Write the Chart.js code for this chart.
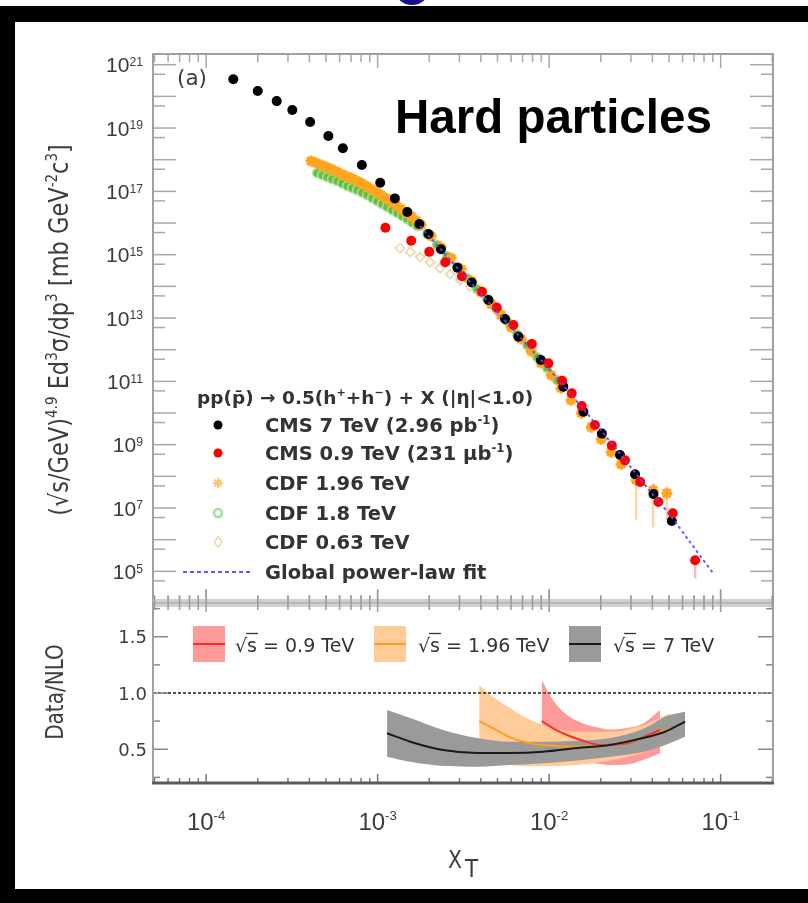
<!DOCTYPE html>
<html>
<head>
<meta charset="utf-8">
<script src="https://cdn.jsdelivr.net/npm/chart.js@4.4.1/dist/chart.umd.min.js"></script>
<style>
  body { margin: 0; background: #fff; }
  #wrap { position: relative; width: 808px; height: 903px; overflow: hidden; background: #fff; }
  .abs { position: absolute; }
  canvas { position: absolute; left: 0; top: 0; }
</style>
</head>
<body>
<div id="wrap">
  <div class="abs" style="left:0;top:6px;width:808px;height:897px;background:#000"></div>
  <div class="abs" style="left:15px;top:22px;width:793px;height:867px;background:#fff"></div>
  <div class="abs" style="left:395px;top:-26px;width:34px;height:31px;border-radius:50%;background:#15138a"></div>
  <canvas id="spectra" width="808" height="903"></canvas>
  <canvas id="ratio" width="808" height="903"></canvas>
</div>
<script>
// axis ranges
const xLimits = [4.9e-5, 0.202];
const spectraYLimits = [1e4, 2.18e21];
const ratioYLimits = [0.2, 1.8];

// tick labels
const spectraTickValues = [1e21, 1e19, 1e17, 1e15, 1e13, 1e11, 1e9, 1e7, 1e5];
const spectraTickExps = ["21", "19", "17", "15", "13", "11", "9", "7", "5"];
const xTickValues = [1e-4, 1e-3, 1e-2, 1e-1];
const xTickExps = ["-4", "-3", "-2", "-1"];
const ratioTickValues = [0.5, 1.0, 1.5];
const ratioTickLabels = ["0.5", "1.0", "1.5"];

// CMS 7 TeV
const cms7X = [1.44e-4, 2.0e-4, 2.58e-4, 3.18e-4, 4.04e-4, 5.16e-4, 6.27e-4, 8.09e-4, 1.035e-3, 1.26e-3, 1.49e-3, 1.75e-3, 1.98e-3, 2.34e-3, 2.92e-3, 3.54e-3, 4.43e-3, 5.53e-3, 6.62e-3, 8.95e-3, 1.21e-2, 1.585e-2, 2.03e-2, 2.59e-2, 3.17e-2, 4.06e-2, 5.19e-2];
const cms7Y = [3.47e20, 1.48e20, 7.1e19, 3.7e19, 1.55e19, 5.6e18, 2.3e18, 6.8e17, 1.86e17, 6.0e16, 2.24e16, 9.3e15, 4.5e15, 1.48e15, 3.9e14, 1.32e14, 3.7e13, 9.3e12, 2.57e12, 4.7e11, 6.8e10, 1.1e10, 2.24e9, 4.7e8, 1.17e8, 2.75e7, 3.9e6];

// CMS 0.9 TeV
const cms09X = [1.11e-3, 1.57e-3, 2.0e-3, 2.48e-3, 3.10e-3, 4.06e-3, 4.95e-3, 6.19e-3, 7.93e-3, 9.9e-3, 1.19e-2, 1.355e-2, 1.55e-2, 1.85e-2, 2.32e-2, 2.77e-2, 3.40e-2, 4.34e-2, 5.26e-2, 7.10e-2];
const cms09Y = [7.1e15, 2.75e15, 1.23e15, 5.75e14, 2.09e14, 6.8e13, 2.14e13, 6.0e12, 1.51e12, 3.7e11, 1.05e11, 4.2e10, 1.66e10, 4.2e9, 9.5e8, 3.2e8, 6.6e7, 1.55e7, 6.8e6, 2.24e5];
const cms09ErrX = [7.10e-2];
const cms09ErrLow = [6.0e4];
const cms09ErrHigh = [3.0e5];

// CDF 1.96 TeV
const cdf196X = [4.09e-4, 4.38e-4, 4.68e-4, 5.01e-4, 5.36e-4, 5.73e-4, 6.13e-4, 6.55e-4, 7.01e-4, 7.49e-4, 8.01e-4, 8.57e-4, 9.16e-4, 9.80e-4, 1.048e-3, 1.121e-3, 1.199e-3, 1.282e-3, 1.371e-3, 1.466e-3, 1.568e-3, 1.677e-3, 1.793e-3, 2.05e-3, 2.34e-3, 2.68e-3, 3.07e-3, 3.51e-3, 4.01e-3, 4.59e-3, 5.25e-3, 6.0e-3, 6.87e-3, 7.85e-3, 8.98e-3, 1.028e-2, 1.175e-2, 1.343e-2, 1.54e-2, 1.76e-2, 2.01e-2, 2.30e-2, 2.63e-2, 3.22e-2, 4.04e-2, 4.86e-2];
const cdf196Y = [9.06e17, 7.84e17, 6.78e17, 5.86e17, 5.07e17, 4.23e17, 3.52e17, 3.04e17, 2.63e17, 2.19e17, 1.83e17, 1.47e17, 1.18e17, 9.5e16, 7.64e16, 5.93e16, 4.59e16, 3.56e16, 2.76e16, 2.14e16, 1.66e16, 1.19e16, 8.61e15, 3.87e15, 1.74e15, 7.8e14, 3.51e14, 1.47e14, 6.58e13, 2.75e13, 1.24e13, 5.16e12, 2.16e12, 9.0e11, 3.77e11, 1.57e11, 6.1e10, 2.55e10, 9.9e9, 3.58e9, 1.49e9, 5.8e8, 2.42e8, 7.57e7, 3.66e7, 2.94e7];
const cdf196ErrX = [3.22e-2, 4.04e-2, 4.86e-2];
const cdf196ErrLow = [4.1e6, 2.45e6, 4.1e6];
const cdf196ErrHigh = [1.35e8, 6.0e7, 4.6e7];

// CDF 1.8 TeV
const cdf18X = [4.44e-4, 4.75e-4, 5.08e-4, 5.43e-4, 5.81e-4, 6.21e-4, 6.65e-4, 7.10e-4, 7.59e-4, 8.12e-4, 8.69e-4, 9.29e-4, 9.93e-4, 1.062e-3, 1.135e-3, 1.215e-3, 1.30e-3, 1.39e-3, 1.485e-3, 1.589e-3, 1.70e-3, 1.945e-3, 2.22e-3, 2.54e-3, 2.91e-3, 3.33e-3, 3.80e-3, 4.35e-3, 4.98e-3, 5.69e-3, 6.50e-3, 7.45e-3, 8.51e-3, 9.73e-3, 1.114e-2];
const cdf18Y = [3.79e17, 3.27e17, 2.83e17, 2.45e17, 2.12e17, 1.76e17, 1.47e17, 1.27e17, 1.10e17, 9.16e16, 7.64e16, 6.14e16, 4.94e16, 3.97e16, 3.19e16, 2.56e16, 2.07e16, 1.66e16, 1.33e16, 1.03e16, 8.0e15, 4.48e15, 2.01e15, 9.0e14, 4.06e14, 1.82e14, 8.2e13, 3.96e13, 1.78e13, 7.98e12, 3.1e12, 1.39e12, 5.8e11, 2.62e11, 1.09e11];

// CDF 0.63 TeV
const cdf063X = [1.35e-3, 1.55e-3, 1.77e-3, 2.02e-3, 2.31e-3, 2.65e-3, 3.03e-3, 3.46e-3];
const cdf063Y = [1.62e15, 1.21e15, 8.4e14, 5.85e14, 3.78e14, 2.44e14, 1.58e14, 1.02e14];

// global power-law fit
const fitX = [1.77e-3, 2.65e-3, 3.96e-3, 5.93e-3, 8.87e-3, 1.32e-2, 1.98e-2, 2.96e-2, 3.88e-2, 5.08e-2, 6.64e-2, 9.04e-2];
const fitY = [7.9e15, 6.8e14, 6.2e13, 5.5e12, 5.0e11, 4.3e10, 3.1e9, 2.1e8, 3.4e7, 5.9e6, 8.3e5, 8.7e4];

// Data/NLO bands
const ratio7X = [1.135e-3, 1.55e-3, 2.41e-3, 3.80e-3, 5.93e-3, 9.23e-3, 1.46e-2, 2.27e-2, 3.53e-2, 4.74e-2, 6.21e-2];
const ratio7Up = [0.849, 0.778, 0.671, 0.60, 0.567, 0.567, 0.575, 0.60, 0.68, 0.79, 0.834];
const ratio7Mid = [0.642, 0.567, 0.493, 0.467, 0.467, 0.478, 0.511, 0.538, 0.60, 0.656, 0.745];
const ratio7Lo = [0.434, 0.389, 0.351, 0.345, 0.36, 0.375, 0.40, 0.434, 0.475, 0.538, 0.612];

const ratio196X = [3.91e-3, 4.71e-3, 5.93e-3, 7.44e-3, 9.23e-3, 1.46e-2, 2.27e-2, 3.53e-2, 5.08e-2];
const ratio196Up = [1.071, 0.967, 0.864, 0.775, 0.716, 0.656, 0.656, 0.716, 0.82];
const ratio196Mid = [0.751, 0.686, 0.606, 0.558, 0.538, 0.523, 0.538, 0.597, 0.686];
const ratio196Lo = [0.40, 0.38, 0.36, 0.35, 0.35, 0.36, 0.40, 0.47, 0.553];

const ratio09X = [9.06e-3, 1.054e-2, 1.27e-2, 1.58e-2, 1.98e-2, 2.27e-2, 2.85e-2, 3.53e-2, 4.44e-2];
const ratio09Up = [1.116, 0.938, 0.804, 0.73, 0.69, 0.676, 0.69, 0.73, 0.849];
const ratio09Mid = [0.751, 0.686, 0.627, 0.576, 0.538, 0.54, 0.553, 0.606, 0.671];
const ratio09Lo = [0.50, 0.46, 0.42, 0.389, 0.37, 0.36, 0.365, 0.404, 0.464];

const unityY = [1, 1];

// legend texts
const spectraLegend = ["CMS 7 TeV", "CMS 0.9 TeV", "CDF 1.96 TeV", "CDF 1.8 TeV", "CDF 0.63 TeV", "Global power-law fit"];
const ratioLegend = ["0.9 TeV", "1.96 TeV", "7 TeV"];

const FONT_LIB = '"Liberation Sans", Arial, sans-serif';
const FONT_DJ = '"DejaVu Sans", sans-serif';

const pts = (xs, ys) => xs.map((x, i) => ({ x: x, y: ys[i] }));

function seg(ctx, x1, y1, x2, y2) {
  ctx.beginPath();
  ctx.moveTo(x1, y1);
  ctx.lineTo(x2, y2);
  ctx.stroke();
}

// draws text pieces with superscripts, optional stretch
function drawRuns(ctx, runs, x, y, o) {
  const size = o.size;
  const sx = o.sx || 1;
  const sy = o.sy || 1;
  const fam = o.family || FONT_DJ;
  const wt = o.weight || "normal";
  const parts = runs.map((r) => {
    const s = r.sup ? size * (o.supScale || 0.6) : size;
    ctx.font = wt + " " + s + "px " + fam;
    return { t: r.t, s: s, w: ctx.measureText(r.t).width * sx, dy: r.sup ? -size * (o.supRise || 0.42) : 0 };
  });
  const total = parts.reduce((acc, p) => acc + p.w, 0);
  let cx = o.align === "right" ? x - total : o.align === "center" ? x - total / 2 : x;
  ctx.fillStyle = o.color || "#333";
  ctx.textAlign = "left";
  ctx.textBaseline = "alphabetic";
  parts.forEach((p) => {
    ctx.save();
    ctx.translate(cx, y + p.dy * sy);
    ctx.scale(sx, sy);
    ctx.font = wt + " " + p.s + "px " + fam;
    ctx.fillText(p.t, 0, 0);
    ctx.restore();
    cx += p.w;
  });
  return total;
}

function xLogTicks(scale) {
  const out = [];
  for (let e = -6; e <= 1; e++) {
    for (let m = 1; m <= 9; m++) {
      const v = m * Math.pow(10, e);
      if (v >= scale.min && v <= scale.max) out.push({ p: scale.getPixelForValue(v), major: m === 1 });
    }
  }
  return out;
}

function yLogTicks(scale) {
  const out = [];
  for (let e = 0; e <= 25; e++) {
    [1, 5].forEach((m) => {
      const v = m * Math.pow(10, e);
      if (v >= scale.min && v <= scale.max) out.push({ p: scale.getPixelForValue(v), major: m === 1 });
    });
  }
  return out;
}

const spectraDecor = {
  id: "spectraDecor",
  beforeDatasetsDraw(chart) {
    const { ctx, scales: { x, y } } = chart;
    ctx.save();
    ctx.lineWidth = 2.5;
    ctx.strokeStyle = "#ffd5a3";
    cdf196ErrX.forEach((v, i) => {
      const px = x.getPixelForValue(v);
      seg(ctx, px, y.getPixelForValue(cdf196ErrLow[i]), px, y.getPixelForValue(cdf196ErrHigh[i]));
    });
    ctx.strokeStyle = "#ffb8b8";
    cms09ErrX.forEach((v, i) => {
      const px = x.getPixelForValue(v);
      seg(ctx, px, y.getPixelForValue(cms09ErrLow[i]), px, y.getPixelForValue(cms09ErrHigh[i]));
    });
    ctx.restore();
  },
  afterDraw(chart) {
    const { ctx, chartArea: a, scales: { x, y } } = chart;
    ctx.save();
    // ticks
    ctx.strokeStyle = "#a8a8a8";
    ctx.lineWidth = 1.5;
    xLogTicks(x).forEach((t) => {
      const len = t.major ? 14 : 8;
      seg(ctx, t.p, a.top, t.p, a.top + len);
      seg(ctx, t.p, a.bottom, t.p, a.bottom - len);
    });
    yLogTicks(y).forEach((t) => {
      const len = t.major ? 23 : 12;
      seg(ctx, a.left, t.p, a.left + len, t.p);
      seg(ctx, a.right, t.p, a.right - len, t.p);
    });
    ctx.strokeStyle = "#a0a0a0";
    ctx.lineWidth = 2;
    ctx.strokeRect(a.left, a.top, a.right - a.left, a.bottom - a.top);

    // y tick labels
    spectraTickValues.forEach((v, i) => {
      const py = y.getPixelForValue(v);
      drawRuns(ctx, [{ t: "10" }, { t: spectraTickExps[i], sup: true }], 143, py + 7.5,
        { size: 21, family: FONT_LIB, color: "#3c3c3c", align: "right", supScale: 0.58, supRise: 0.3 });
    });

    // y title
    ctx.save();
    ctx.translate(68, 330);
    ctx.rotate(-Math.PI / 2);
    drawRuns(ctx, [
      { t: "(√s/GeV)" }, { t: "4.9", sup: true }, { t: " Ed" }, { t: "3", sup: true },
      { t: "σ/dp" }, { t: "3", sup: true }, { t: " [mb GeV" }, { t: "-2", sup: true },
      { t: "c" }, { t: "3", sup: true }, { t: "]" }
    ], 0, 0, { size: 22.5, family: FONT_DJ, color: "#3c3c3c", align: "center", sy: 1.15 });
    ctx.restore();

    // (a)
    drawRuns(ctx, [{ t: "(a)" }], 177, 85, { size: 21.5, family: FONT_DJ, color: "#3c3c3c" });

    // big title
    ctx.fillStyle = "#000";
    ctx.font = "bold 47.5px " + FONT_LIB;
    ctx.textAlign = "left";
    ctx.textBaseline = "alphabetic";
    ctx.fillText("Hard particles", 395, 133);

    // legend
    const headOpts = { size: 18.5, family: FONT_DJ, weight: "bold", color: "#333" };
    const legOpts = { size: 19.5, family: FONT_DJ, weight: "bold", color: "#333" };
    drawRuns(ctx, [{ t: "pp(p̄) → 0.5(h" }, { t: "+", sup: true }, { t: "+h" }, { t: "−", sup: true }, { t: ") + X (|η|<1.0)" }],
      197, 404, headOpts);
    const rows = [425, 453, 483, 513, 542, 572];
    const mx = 218;
    const tx = 265;
    ctx.fillStyle = "#000";
    ctx.beginPath(); ctx.arc(mx, rows[0], 4.5, 0, Math.PI * 2); ctx.fill();
    ctx.fillStyle = "#ff0000";
    ctx.beginPath(); ctx.arc(mx, rows[1], 4.5, 0, Math.PI * 2); ctx.fill();
    ctx.strokeStyle = "#ffc27a"; ctx.lineWidth = 2;
    Chart.helpers.drawPoint(ctx, { pointStyle: "star", radius: 5, rotation: 0, borderWidth: 2 }, mx, rows[2]);
    ctx.strokeStyle = "#9fe09a"; ctx.lineWidth = 2.5;
    ctx.beginPath(); ctx.arc(mx, rows[3], 4, 0, Math.PI * 2); ctx.stroke();
    ctx.strokeStyle = "#f2d2a6"; ctx.lineWidth = 1.5;
    ctx.beginPath();
    ctx.moveTo(mx, rows[4] - 5); ctx.lineTo(mx + 4, rows[4]); ctx.lineTo(mx, rows[4] + 5); ctx.lineTo(mx - 4, rows[4]); ctx.closePath();
    ctx.stroke();
    ctx.strokeStyle = "#5a5aff"; ctx.lineWidth = 2; ctx.setLineDash([4, 3]);
    seg(ctx, 183, rows[5], 250, rows[5]);
    ctx.setLineDash([]);

    drawRuns(ctx, [{ t: spectraLegend[0] + " (2.96 pb" }, { t: "-1", sup: true }, { t: ")" }], tx, rows[0] + 7, legOpts);
    drawRuns(ctx, [{ t: spectraLegend[1] + " (231 μb" }, { t: "-1", sup: true }, { t: ")" }], tx, rows[1] + 7, legOpts);
    for (let i = 2; i < 6; i++) {
      drawRuns(ctx, [{ t: spectraLegend[i] }], tx, rows[i] + 7, legOpts);
    }
    ctx.restore();
  }
};

new Chart(document.getElementById("spectra"), {
  type: "scatter",
  data: {
    datasets: [
      {
        label: spectraLegend[5],
        data: pts(fitX, fitY),
        showLine: true,
        borderColor: "rgba(80,80,255,0.9)",
        borderWidth: 2,
        borderDash: [3, 3],
        pointRadius: 0,
        tension: 0.3,
        fill: false,
      },
      {
        label: spectraLegend[1],
        data: pts(cms09X, cms09Y),
        backgroundColor: "#ff0000",
        borderColor: "#ff0000",
        borderWidth: 0,
        pointRadius: 5,
      },
      {
        label: spectraLegend[0],
        data: pts(cms7X, cms7Y),
        backgroundColor: "#000",
        borderColor: "#000",
        borderWidth: 0,
        pointRadius: 5,
      },
      {
        label: spectraLegend[2],
        data: pts(cdf196X, cdf196Y),
        pointStyle: "star",
        borderColor: "#ffa41f",
        borderWidth: 3,
        pointRadius: 5.5,
      },
      {
        label: spectraLegend[3],
        data: pts(cdf18X, cdf18Y),
        pointStyle: "circle",
        backgroundColor: "#6cbd3c",
        borderColor: "#a9e4a0",
        borderWidth: 1.5,
        pointRadius: 4.5,
      },
      {
        label: spectraLegend[4],
        data: pts(cdf063X, cdf063Y),
        pointStyle: "rectRot",
        backgroundColor: "rgba(255,255,255,0)",
        borderColor: "#f0d0a2",
        borderWidth: 1.5,
        pointRadius: 4.5,
      },
    ],
  },
  options: {
    responsive: false,
    animation: false,
    devicePixelRatio: 1,
    events: [],
    layout: { padding: { left: 153, top: 54, right: 35, bottom: 300 } },
    scales: {
      x: { type: "logarithmic", min: xLimits[0], max: xLimits[1], display: false },
      y: { type: "logarithmic", min: spectraYLimits[0], max: spectraYLimits[1], display: false },
    },
    plugins: { legend: { display: false }, tooltip: { enabled: false } },
  },
  plugins: [spectraDecor],
});

const ratioDecor = {
  id: "ratioDecor",
  afterDraw(chart) {
    const { ctx, chartArea: a, scales: { x, y } } = chart;
    ctx.save();
    // band between panels
    ctx.fillStyle = "#d0d0d0";
    ctx.fillRect(a.left, a.top - 4, a.right - a.left, 8);
    ctx.strokeStyle = "#b0b0b0";
    ctx.lineWidth = 1.5;
    seg(ctx, a.left, a.top, a.right, a.top);

    ctx.strokeStyle = "#999";
    ctx.lineWidth = 1.5;
    xLogTicks(x).forEach((t) => {
      if (t.major) seg(ctx, t.p, a.top - 13, t.p, a.top + 9);
      else seg(ctx, t.p, a.top - 7, t.p, a.top + 7);
    });
    ctx.strokeStyle = "#777";
    xLogTicks(x).forEach((t) => {
      const len = t.major ? 9 : 5;
      seg(ctx, t.p, a.bottom, t.p, a.bottom - len);
    });
    ctx.strokeStyle = "#888";
    for (let v = 0.25; v < ratioYLimits[1]; v += 0.25) {
      const py = y.getPixelForValue(v);
      const major = Math.abs(v * 2 - Math.round(v * 2)) < 1e-6;
      const len = major ? 15 : 7;
      seg(ctx, a.left, py, a.left + len, py);
      seg(ctx, a.right, py, a.right - len, py);
    }
    // frame
    ctx.strokeStyle = "#a0a0a0";
    ctx.lineWidth = 2;
    seg(ctx, a.left, a.top, a.left, a.bottom);
    seg(ctx, a.right, a.top, a.right, a.bottom);
    ctx.strokeStyle = "#5a5a5a";
    ctx.lineWidth = 3;
    seg(ctx, a.left - 1, a.bottom, a.right + 1, a.bottom);

    // y labels
    ratioTickValues.forEach((v, i) => {
      drawRuns(ctx, [{ t: ratioTickLabels[i] }], 147, y.getPixelForValue(v) + 6.5,
        { size: 18, family: FONT_DJ, color: "#3c3c3c", align: "right" });
    });
    // x labels
    xTickValues.forEach((v, i) => {
      drawRuns(ctx, [{ t: "10" }, { t: xTickExps[i], sup: true }], x.getPixelForValue(v), 830,
        { size: 24, family: FONT_LIB, color: "#3c3c3c", align: "center", supScale: 0.55, supRise: 0.42 });
    });
    // axis titles
    ctx.save();
    ctx.translate(63, 692);
    ctx.rotate(-Math.PI / 2);
    drawRuns(ctx, [{ t: "Data/NLO" }], 0, 0, { size: 20, family: FONT_DJ, color: "#3c3c3c", align: "center", sy: 1.2 });
    ctx.restore();
    drawRuns(ctx, [{ t: "X" }], 448, 868, { size: 24, family: FONT_DJ, color: "#3c3c3c", sx: 0.85 });
    drawRuns(ctx, [{ t: "T" }], 465, 877, { size: 24, family: FONT_DJ, color: "#3c3c3c", sx: 0.9 });

    // legend
    const boxes = [
      { x: 193, fill: "#ff9a9a", line: "#ff2a2a", tx: 235 },
      { x: 374, fill: "#ffcc99", line: "#ff9e1a", tx: 418 },
      { x: 569, fill: "#9a9a9a", line: "#1a1a1a", tx: 613 },
    ];
    boxes.forEach((b, i) => {
      ctx.fillStyle = b.fill;
      ctx.fillRect(b.x, 626, 32, 36);
      ctx.strokeStyle = b.line;
      ctx.lineWidth = 2;
      seg(ctx, b.x, 644, b.x + 32, 644);
      const w = drawRuns(ctx, [{ t: "√" }], b.tx, 652, { size: 19, family: FONT_DJ, color: "#333" });
      ctx.font = "19px " + FONT_DJ;
      const sw = ctx.measureText("s").width;
      drawRuns(ctx, [{ t: "s = " + ratioLegend[i] }], b.tx + w, 652, { size: 19, family: FONT_DJ, color: "#333" });
      ctx.strokeStyle = "#333";
      ctx.lineWidth = 1.3;
      seg(ctx, b.tx + w - 1, 633.5, b.tx + w + sw + 1, 633.5);
    });
    ctx.restore();
  }
};

const lineStyle = { pointRadius: 0, fill: false, cubicInterpolationMode: "monotone" };
const edgeStyle = { pointRadius: 0, borderWidth: 0, cubicInterpolationMode: "monotone" };

new Chart(document.getElementById("ratio"), {
  type: "line",
  data: {
    datasets: [
      { label: "unity", data: pts(xLimits, unityY), borderColor: "#555", borderWidth: 2, borderDash: [3, 2], pointRadius: 0, fill: false },
      Object.assign({ label: "7 TeV", data: pts(ratio7X, ratio7Mid), borderColor: "#1a1a1a", borderWidth: 2 }, lineStyle),
      Object.assign({ label: "1.96 TeV", data: pts(ratio196X, ratio196Mid), borderColor: "#ff9e1a", borderWidth: 2 }, lineStyle),
      Object.assign({ label: "0.9 TeV", data: pts(ratio09X, ratio09Mid), borderColor: "#ff2a2a", borderWidth: 2 }, lineStyle),
      Object.assign({ label: "7 TeV up", data: pts(ratio7X, ratio7Up), fill: "+1", backgroundColor: "#9a9a9a" }, edgeStyle),
      Object.assign({ label: "7 TeV lo", data: pts(ratio7X, ratio7Lo), fill: false }, edgeStyle),
      Object.assign({ label: "1.96 TeV up", data: pts(ratio196X, ratio196Up), fill: "+1", backgroundColor: "#ffcc99" }, edgeStyle),
      Object.assign({ label: "1.96 TeV lo", data: pts(ratio196X, ratio196Lo), fill: false }, edgeStyle),
      Object.assign({ label: "0.9 TeV up", data: pts(ratio09X, ratio09Up), fill: "+1", backgroundColor: "#ff9a9a" }, edgeStyle),
      Object.assign({ label: "0.9 TeV lo", data: pts(ratio09X, ratio09Lo), fill: false }, edgeStyle),
    ],
  },
  options: {
    responsive: false,
    animation: false,
    devicePixelRatio: 1,
    events: [],
    layout: { padding: { left: 153, top: 603, right: 35, bottom: 120 } },
    scales: {
      x: { type: "logarithmic", min: xLimits[0], max: xLimits[1], display: false },
      y: { type: "linear", min: ratioYLimits[0], max: ratioYLimits[1], display: false },
    },
    plugins: { legend: { display: false }, tooltip: { enabled: false } },
  },
  plugins: [ratioDecor],
});
</script>
</body>
</html>
